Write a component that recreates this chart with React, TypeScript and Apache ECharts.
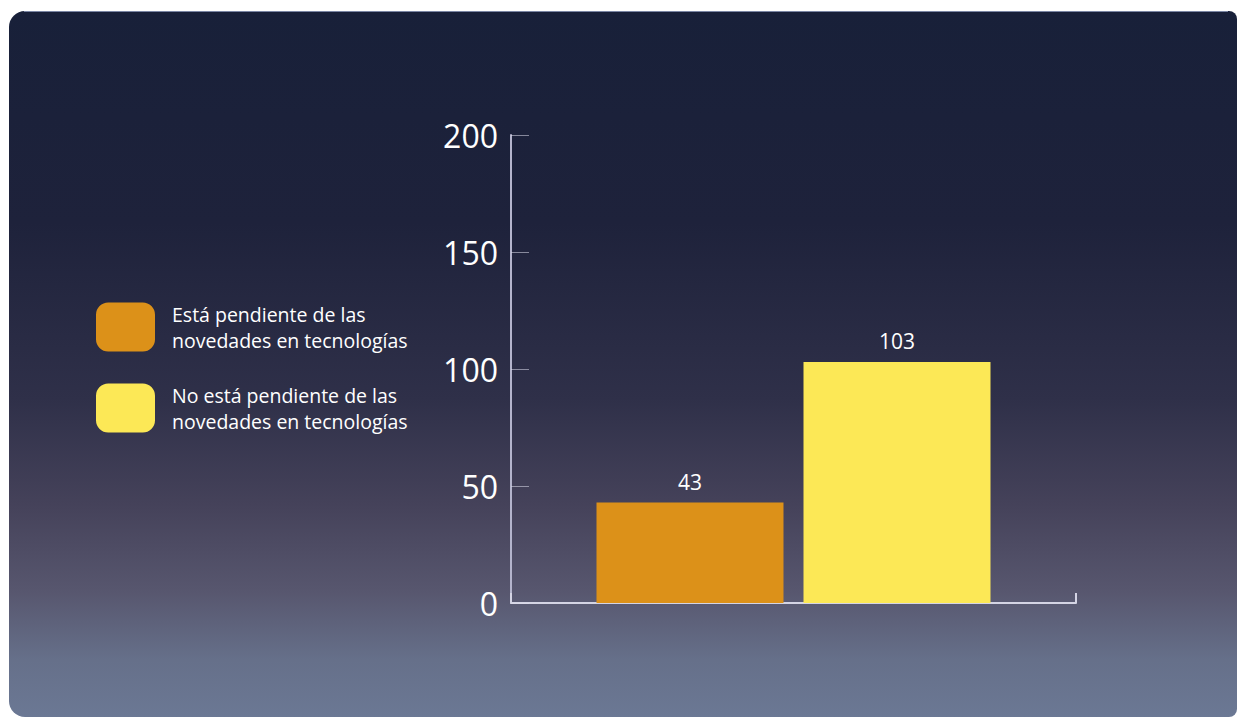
import React, { useEffect, useRef } from "react";
import * as echarts from "echarts";

const categories = [""];
const seriesNames = [
  "Está pendiente de las\nnovedades en tecnologías",
  "No está pendiente de las\nnovedades en tecnologías",
];
const seriesValues = [[43], [103]];
const seriesColors = ["#dc9119", "#fce856"];
const yTicks = { min: 0, max: 200, interval: 50 };

export default function App() {
  const ref = useRef<HTMLDivElement>(null);
  useEffect(() => {
    if (!ref.current) return;
    const chart = echarts.init(ref.current, undefined, { renderer: "svg" });
    const font = "Open Sans";
    chart.setOption({
      animation: false,
      graphic: [
        {
          type: "rect",
          z: -10,
          silent: true,
          shape: { x: 9, y: 11, width: 1228, height: 706, r: [16, 8, 8, 16] },
          style: {
            fill: new echarts.graphic.LinearGradient(0, 0, 0, 1, [
              { offset: 0, color: "#182039" },
              { offset: 0.3, color: "#1e223b" },
              { offset: 0.55, color: "#2f3049" },
              { offset: 0.7, color: "#45425a" },
              { offset: 0.82, color: "#57566e" },
              { offset: 0.92, color: "#66708a" },
              { offset: 1, color: "#6b7894" },
            ]),
          },
        },
        {
          type: "line",
          z: -9,
          silent: true,
          shape: { x1: 24, y1: 11.5, x2: 1228, y2: 11.5 },
          style: { stroke: "#7a86a4", lineWidth: 1 },
        },
      ],
      legend: {
        orient: "vertical",
        left: 91,
        top: 296,
        itemWidth: 59,
        itemHeight: 49,
        itemGap: 29,
        icon: "roundRect",
        data: seriesNames,
        textStyle: {
          color: "#ffffff",
          fontFamily: font,
          fontSize: 19.5,
          lineHeight: 26,
          padding: [0, 0, 0, 12],
        },
        selectedMode: false,
      },
      grid: { left: 511, right: 162, top: 135, bottom: 115 },
      xAxis: {
        type: "category",
        data: categories,
        axisLine: { lineStyle: { color: "#d4d4e4", width: 2 } },
        axisTick: { show: true, inside: true, length: 10, lineStyle: { color: "#d4d4e4", width: 2 } },
        axisLabel: { show: false },
      },
      yAxis: {
        type: "value",
        min: yTicks.min,
        max: yTicks.max,
        interval: yTicks.interval,
        splitLine: { show: false },
        axisLine: { show: true, lineStyle: { color: "#b4b4cc", width: 2 } },
        axisTick: { show: true, inside: true, length: 18, lineStyle: { color: "rgba(220,220,235,0.55)", width: 1 } },
        axisLabel: { color: "#ffffff", fontFamily: font, fontSize: 32, margin: 13 },
      },
      series: seriesNames.map((name, i) => ({
        type: "bar",
        name,
        data: seriesValues[i],
        barWidth: 187,
        barGap: "10.7%",
        itemStyle: { color: seriesColors[i] },
        label: {
          show: true,
          position: "top",
          distance: 10,
          color: "#ffffff",
          fontFamily: font,
          fontSize: 21,
        },
      })),
    });
    return () => chart.dispose();
  }, []);
  return (
    <div
      ref={ref}
      style={{ position: "fixed", left: 0, top: 0, width: 1238, height: 718, background: "#ffffff" }}
    />
  );
}
